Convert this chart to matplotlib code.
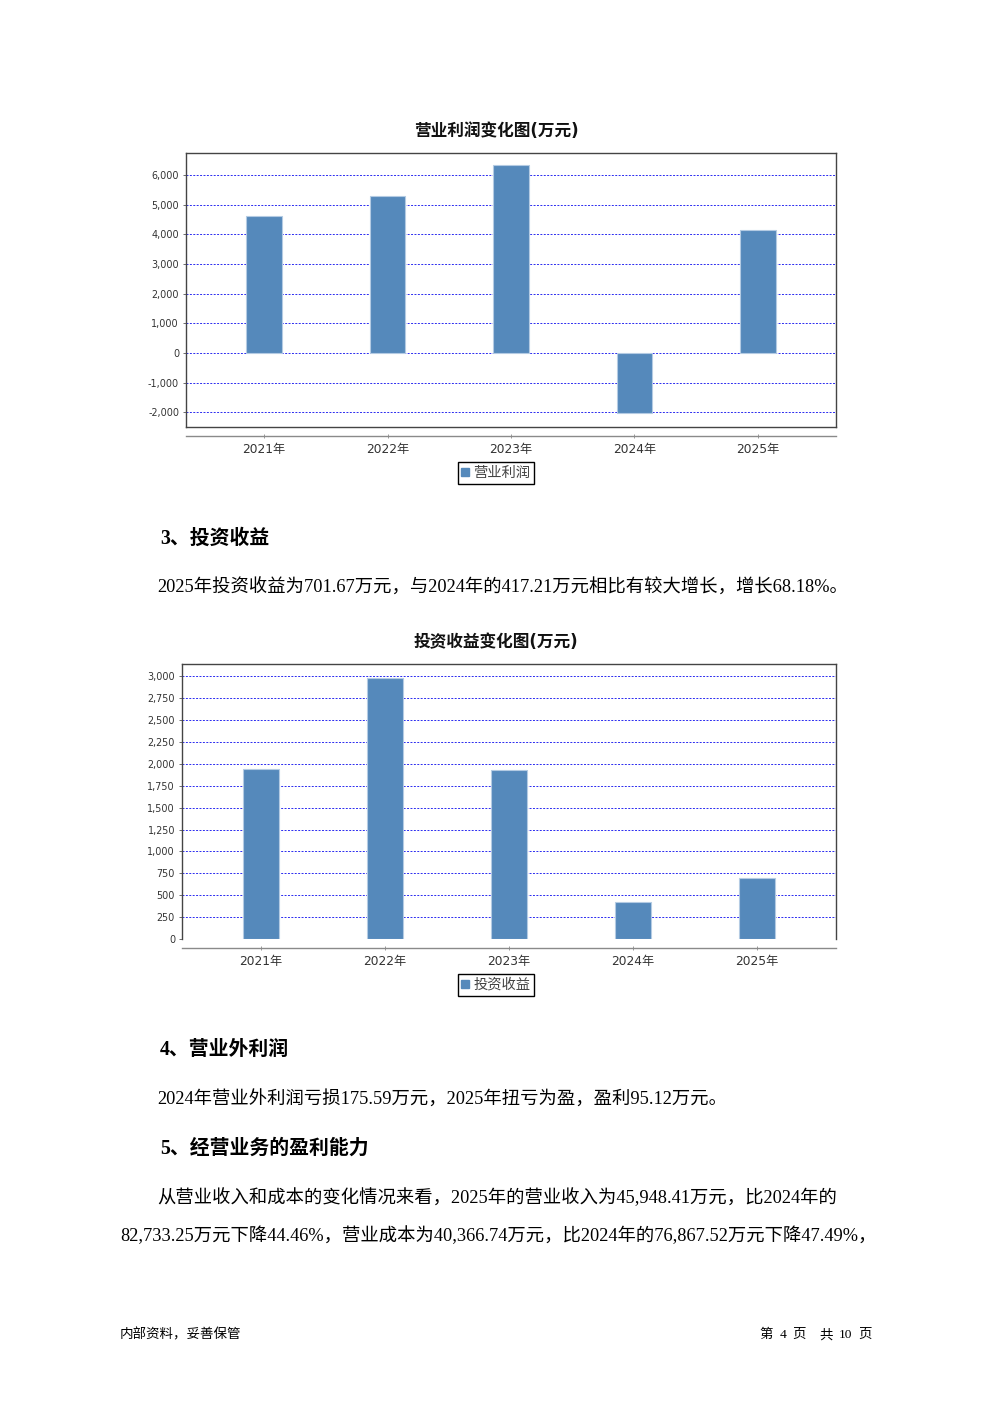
import matplotlib
matplotlib.use("Agg")
import matplotlib.pyplot as plt
from matplotlib.patches import Patch
from matplotlib.ticker import FuncFormatter, FixedLocator

# ---------------- data ----------------
years = ["2021年", "2022年", "2023年", "2024年", "2025年"]
op_profit = [4610, 5290, 6335, -2030, 4160]          # 营业利润 (万元)
invest_income = [1946, 2985, 1935, 417.21, 701.67]   # 投资收益 (万元)
op_ticks = [-2000, -1000, 0, 1000, 2000, 3000, 4000, 5000, 6000]
inv_ticks = [0, 250, 500, 750, 1000, 1250, 1500, 1750, 2000, 2250, 2500, 2750, 3000]

SANS_FAM = ["DejaVu Sans", "Noto Sans CJK SC"]
TXT_FAM = ["Liberation Serif", "Noto Sans CJK SC"]
plt.rcParams["font.family"] = SANS_FAM

W, H = 992, 1403
fig = plt.figure(figsize=(W / 100, H / 100), dpi=100)
fig.patch.set_facecolor("white")

def fx(x):
    return x / W

def fy(y):
    return 1 - y / H

BAR = "#5589BB"
EDGE = "#B4CBE3"
GRID = "#2B2BF0"

def thousands(v, pos):
    return f"{int(round(v)):,}"

def make_chart(rect_px, values, ticks, ylim, xlim, title, title_y, legend_label, legend_y,
               box_bottom):
    l, t, r, b = rect_px
    ax = fig.add_axes([fx(l), fy(b), (r - l) / W, (b - t) / H])
    x = list(range(len(values)))
    ax.bar(x, values, width=0.29, color=BAR, edgecolor=EDGE, linewidth=0.8, zorder=3)
    ax.set_xlim(*xlim)
    ax.set_ylim(*ylim)
    ax.set_axisbelow(True)
    ax.yaxis.set_major_locator(FixedLocator(ticks))
    ax.yaxis.set_major_formatter(FuncFormatter(thousands))
    ax.yaxis.grid(True, color=GRID, linestyle=(0, (2, 1.5)), linewidth=0.7, zorder=0)
    ax.set_xticks(x)
    ax.set_xticklabels(years)
    ax.tick_params(axis="y", length=2, width=0.6, color="#555555", pad=3,
                   labelsize=6.9, labelcolor="#333333")
    ax.tick_params(axis="x", length=2.5, width=0.6, color="#888888", pad=3.5, direction="inout",
                   labelsize=8.8, labelcolor="#333333")
    for lab in ax.get_xticklabels():
        lab.set_fontfamily(SANS_FAM)
    for lab in ax.get_yticklabels():
        lab.set_fontfamily(SANS_FAM)
    for s in ("top", "left", "right"):
        ax.spines[s].set_color("#444444")
        ax.spines[s].set_linewidth(1.0)
    ax.spines["bottom"].set_position(("outward", 6.5))
    ax.spines["bottom"].set_color("#8a8a8a")
    ax.spines["bottom"].set_linewidth(1.0)
    if box_bottom:
        ax.plot([0, 1], [0, 0], transform=ax.transAxes, color="#444444", lw=1.0,
                clip_on=False, zorder=5)
    fig.text(fx(496), fy(title_y), title, ha="center", va="center", fontsize=12,
             fontweight="bold", fontfamily=SANS_FAM, color="#111111")
    leg = ax.legend(handles=[Patch(facecolor=BAR, edgecolor=BAR)], labels=[legend_label],
                    loc="center", bbox_to_anchor=(fx(496), fy(legend_y)),
                    bbox_transform=fig.transFigure, frameon=True, fancybox=False,
                    edgecolor="black", framealpha=1, handlelength=0.55, handleheight=0.55,
                    handletextpad=0.3, borderpad=0.25, borderaxespad=0,
                    prop={"family": SANS_FAM, "size": 10.3})
    leg.get_frame().set_linewidth(1.0)
    for tx in leg.get_texts():
        tx.set_color("#444444")
    return ax

make_chart((186, 153, 836, 427), op_profit, op_ticks, (-2495, 6743), (-0.632, 4.632),
           "营业利润变化图(万元)", 131, "营业利润", 473, True)
make_chart((182, 664, 836, 939), invest_income, inv_ticks, (0, 3141), (-0.637, 4.637),
           "投资收益变化图(万元)", 642, "投资收益", 985, False)

# ---------------- page text ----------------
def heading(x, y, s):
    fig.text(fx(x), fy(y), s, ha="left", va="center", fontsize=14.3, fontweight="bold",
             fontfamily=TXT_FAM, color="#000000")

def body(x, y, s, size=13.2):
    fig.text(fx(x), fy(y), s, ha="left", va="center", fontsize=size,
             fontfamily=TXT_FAM, color="#000000")

heading(160, 539, "3、投资收益")
body(157, 588, "2025年投资收益为701.67万元，与2024年的417.21万元相比有较大增长，增长68.18%。")
heading(160, 1050, "4、营业外利润")
body(157, 1100, "2024年营业外利润亏损175.59万元，2025年扭亏为盈，盈利95.12万元。")
heading(160, 1149, "5、经营业务的盈利能力")
body(157, 1198, "从营业收入和成本的变化情况来看，2025年的营业收入为45,948.41万元，比2024年的")
body(120, 1236, "82,733.25万元下降44.46%，营业成本为40,366.74万元，比2024年的76,867.52万元下降47.49%，")

fig.text(fx(120), fy(1335), "内部资料，妥善保管", ha="left", va="center", fontsize=9.7,
         fontfamily=TXT_FAM, color="#000000")
footer_tokens = ["第", "4", "页", "共", "10", "页"]
footer_x = [766, 783, 799, 826, 846, 865]
for tok, xx in zip(footer_tokens, footer_x):
    fig.text(fx(xx), fy(1335), tok, ha="center", va="center", fontsize=9.7,
             fontfamily=TXT_FAM, color="#000000")

fig.savefig("out.png", dpi=100, facecolor="white")
